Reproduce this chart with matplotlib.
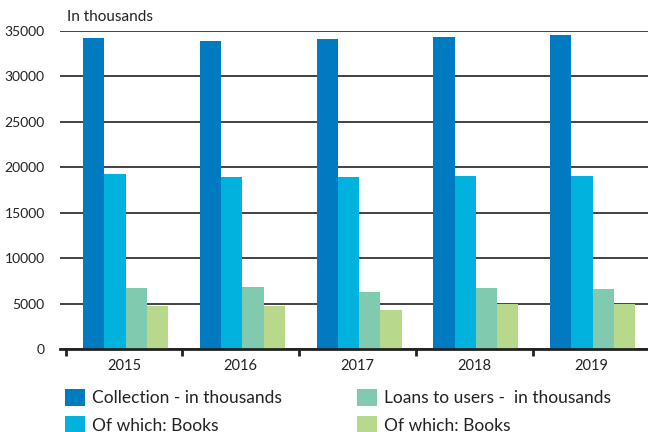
import numpy as np
import matplotlib.pyplot as plt

years = ["2015", "2016", "2017", "2018", "2019"]
collection = [34260, 33930, 34150, 34370, 34590]
collection_books = [19230, 18900, 18900, 19010, 19010]
loans = [6730, 6840, 6260, 6730, 6590]
loans_books = [4750, 4750, 4280, 4940, 4910]

series = [
    ("Collection - in thousands", collection, "#007bc2"),
    ("Of which: Books", collection_books, "#00b2dd"),
    ("Loans to users -  in thousands", loans, "#80cbb0"),
    ("Of which: Books", loans_books, "#b8d98b"),
]

plt.rcParams["font.family"] = ["Lato", "DejaVu Sans"]
txt = "#222222"

fig = plt.figure(figsize=(6.48, 4.32), dpi=100)
ax = fig.add_axes([60 / 648, (432 - 349) / 432, 588 / 648, (349 - 31) / 432])

x = np.arange(len(years))
w = 0.182
handles = []
for i, (name, vals, col) in enumerate(series):
    b = ax.bar(x + (i - 1.5) * w + 0.013, vals, w, color=col, label=name, zorder=3)
    handles.append(b)

ax.set_ylim(0, 35000)
ax.set_xlim(-0.549, 4.488)
ax.set_yticks(np.arange(0, 35001, 5000))
ax.yaxis.grid(True, color=txt, linewidth=1.2, zorder=0)
ax.tick_params(axis="y", length=0, pad=11, labelsize=10, labelcolor=txt)

ax.set_xticks(np.arange(-0.5, 4.5, 1))
ax.set_xticklabels([])
ax.set_xticks(x, minor=True)
ax.set_xticklabels(years, minor=True, fontsize=10.5, color=txt)
ax.tick_params(axis="x", which="major", direction="out", length=5, width=2, color=txt)
ax.tick_params(axis="x", which="minor", length=0, pad=7)

for s in ["left", "right", "top"]:
    ax.spines[s].set_visible(False)
ax.spines["bottom"].set_linewidth(2)
ax.spines["bottom"].set_color(txt)
ax.spines["bottom"].set_zorder(4)

fig.text(67 / 648, 1 - 17 / 432, "In thousands", fontsize=11,
         color=txt, va="center", ha="left")

leg_kw = dict(loc="upper left", ncol=1, frameon=False, fontsize=12.5, handlelength=1.15,
              handleheight=1.15, handletextpad=0.4, labelspacing=0.55, borderpad=0,
              borderaxespad=0, labelcolor=txt)
leg1 = fig.legend(handles=handles[:2], bbox_to_anchor=(65 / 648, 1 - 389 / 432), **leg_kw)
leg2 = fig.legend(handles=handles[2:], bbox_to_anchor=(357 / 648, 1 - 389 / 432), **leg_kw)

fig.savefig("out.png", dpi=100)
